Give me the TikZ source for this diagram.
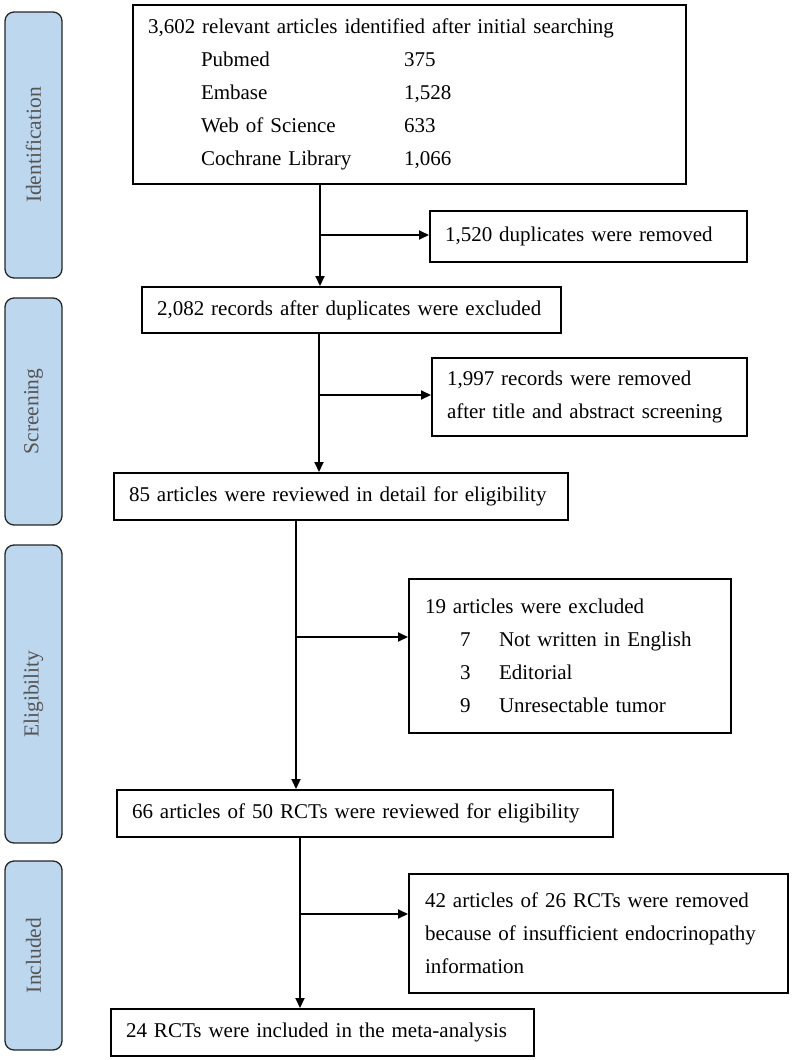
\documentclass[tikz,border=0pt]{standalone}
\usepackage{fontspec}
\setmainfont{Liberation Serif}
\usetikzlibrary{arrows.meta}

\definecolor{stageblue}{RGB}{189,215,238}
\definecolor{stagegray}{RGB}{85,85,85}

\tikzset{
  stage/.style={draw=black!85, line width=1.3pt, fill=stageblue, rounded corners=9pt,
    rotate=90, minimum height=57pt, text=stagegray, font=\fontsize{21.5}{24}\selectfont},
  flowbox/.style={draw, line width=2pt, anchor=north west, align=left,
    inner xsep=15pt, inner ysep=0pt, font=\fontsize{21}{33}\selectfont},
  flow/.style={line width=2pt, -{Triangle[length=10pt,width=9pt]}}
}

\begin{document}
\begin{tikzpicture}[x=1pt,y=-1pt]

        \useasboundingbox (0,0) rectangle (792,1060);

        % stages on the left
        \node[stage, minimum width=266pt] (ident)  at (33.5,145)   {Identification};
        \node[stage, minimum width=227pt] (screen) at (33.5,411.5) {Screening};
        \node[stage, minimum width=298pt] (elig)   at (33.5,694)   {Eligibility};
        \node[stage, minimum width=189pt] (incl)   at (33.5,955.5) {Included};

        % main column and side boxes
        \node[flowbox, text width=523pt, minimum height=179pt] (search) at (132,4)
          {3,602 relevant articles identified after initial searching\\
           \hspace*{53pt}\makebox[203pt][l]{Pubmed}375\\
           \hspace*{53pt}\makebox[203pt][l]{Embase}1,528\\
           \hspace*{53pt}\makebox[203pt][l]{Web of Science}633\\
           \hspace*{53pt}\makebox[203pt][l]{Cochrane Library}1,066};
        \node[flowbox, text width=287pt, minimum height=51pt] (dupl) at (429,210)
          {\mbox{1,520 duplicates were removed}};
        \node[flowbox, text width=389pt, minimum height=46pt] (records) at (141,286)
          {\mbox{2,082 records after duplicates were excluded}};
        \node[flowbox, text width=285pt, minimum height=78pt] (title) at (431,357)
          {1,997 records were removed\\after title and abstract screening};
        \node[flowbox, text width=424pt, minimum height=47pt] (detail) at (113,472)
          {\mbox{85 articles were reviewed in detail for eligibility}};
        \node[flowbox, text width=290pt, minimum height=154pt, inner xsep=16pt] (excl) at (408,578)
          {19 articles were excluded\\
           \hspace*{35pt}\makebox[39pt][l]{7}Not written in English\\
           \hspace*{35pt}\makebox[39pt][l]{3}Editorial\\
           \hspace*{35pt}\makebox[39pt][l]{9}Unresectable tumor};
        \node[flowbox, text width=466pt, minimum height=47pt] (rcts) at (116,789)
          {\mbox{66 articles of 50 RCTs were reviewed for eligibility}};
        \node[flowbox, text width=347pt, minimum height=119pt, inner xsep=16pt] (insuff) at (408,873)
          {42 articles of 26 RCTs were removed\\because of insufficient endocrinopathy\\information};
        \node[flowbox, text width=393pt, minimum height=47pt] (meta) at (110,1008)
          {\mbox{24 RCTs were included in the meta-analysis}};

        % split points
        \coordinate (s1) at (320,235);
        \coordinate (s2) at (319,395);
        \coordinate (s3) at (296,637);
        \coordinate (s4) at (300,914);

        \draw[flow] (s1 |- search.south) -- (s1 |- records.north);
        \draw[flow] (s1) -- (s1 -| dupl.west);
        \draw[flow] (s2 |- records.south) -- (s2 |- detail.north);
        \draw[flow] (s2) -- (s2 -| title.west);
        \draw[flow] (s3 |- detail.south) -- (s3 |- rcts.north);
        \draw[flow] (s3) -- (s3 -| excl.west);
        \draw[flow] (s4 |- rcts.south) -- (s4 |- meta.north);
        \draw[flow] (s4) -- (s4 -| insuff.west);

      \end{tikzpicture}
\end{document}
